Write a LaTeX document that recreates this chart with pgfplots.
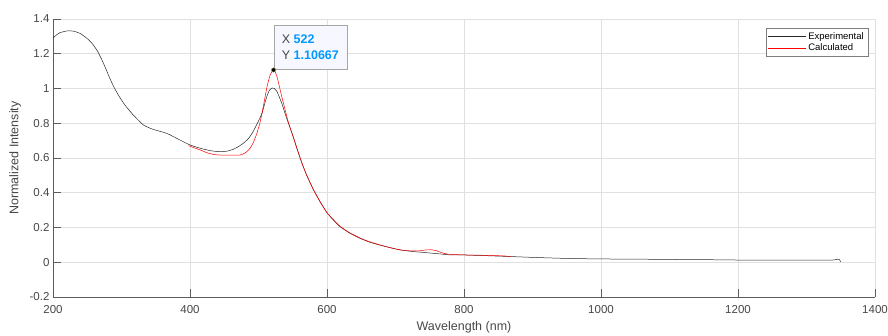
\documentclass[border=0pt]{standalone}
\usepackage{fontspec}
\setmainfont{Liberation Sans}
\usepackage{pgfplots}
\pgfplotsset{compat=1.18}
\definecolor{axgray}{rgb}{0.15,0.15,0.15}
\definecolor{gridgray}{rgb}{0.88,0.88,0.88}
\definecolor{tipblue}{rgb}{0,0.6,1}
\definecolor{tipfill}{rgb}{0.97,0.97,1}
\begin{document}
\begin{tikzpicture}
\useasboundingbox (-53pt,-39pt) rectangle (835pt,297pt);
\begin{axis}[
  at={(0pt,0pt)}, anchor=south west,
  scale only axis, width=822pt, height=278pt,
  xmin=200, xmax=1400, ymin=-0.2, ymax=1.4,
  xtick={200,400,600,800,1000,1200,1400},
  ytick={-0.2,0,0.2,0.4,0.6,0.8,1,1.2,1.4},
  axis lines*=left,
  axis line style={axgray!75, line width=0.6pt},
  tick style={axgray!75, line width=0.6pt},
  tick align=inside, major tick length=8pt,
  grid=major, grid style={gridgray, line width=0.5pt},
  /pgf/number format/assume math mode=true,
  /pgf/number format/1000 sep={},
  ticklabel style={font=\fontsize{11.5}{13}\selectfont, text=axgray!85},
  xticklabel style={yshift=-5pt},
  xlabel={Wavelength (nm)}, ylabel={Normalized Intensity},
  label style={font=\fontsize{12.5}{14}\selectfont, text=axgray!85},
  xlabel style={at={(axis description cs:0.5,-0.088)}, anchor=north, inner sep=0pt},
  ylabel style={at={(axis description cs:-0.046,0.5)}, anchor=center, inner sep=0pt},
  legend style={at={(0.9915,0.9676)}, anchor=north east, draw=axgray!60, line width=0.5pt,
    font=\fontsize{9.5}{11}\selectfont, fill=white, inner sep=2pt, row sep=-1pt,
    cells={anchor=west}},
  legend image code/.code={\draw[#1] (0pt,0pt) -- (38pt,0pt);},
]
\addplot[black!85, line width=0.5pt, smooth, tension=0.3] coordinates {
(200,1.289) (205,1.308) (210,1.321) (220,1.331) (230,1.330) (240,1.316)
(250,1.287) (258,1.255) (265,1.215) (271,1.168) (277,1.115) (283,1.058)
(290,1.000) (297,0.952) (305,0.905) (317,0.848) (332,0.790) (346,0.765)
(366,0.742) (385,0.704)
(400,0.675) (415,0.656) (430,0.642) (444,0.636) (455,0.640) (463,0.650)
(470,0.664) (478,0.685) (486,0.715) (492,0.751) (499,0.805) (505,0.857)
(512,0.953) (516,0.990) (520,1.003) (523,1.000) (527,0.982) (534,0.915)
(541,0.829) (549,0.742) (556,0.655) (563,0.575) (570,0.505) (580,0.420)
(590,0.348) (600,0.285) (610,0.240) (619,0.205) (633,0.168) (648,0.138)
(662,0.116) (677,0.099) (692,0.084) (707,0.071) (725,0.062) (745,0.055)
(765,0.048) (780,0.042) (800,0.042) (830,0.038) (860,0.034) (900,0.028)
(950,0.022) (1000,0.019) (1050,0.018) (1100,0.016) (1150,0.015) (1193,0.013)
(1250,0.012) (1300,0.012) (1340,0.013) (1345,0.018) (1348,0.015) (1350,0.002)
};
\addlegendentry{Experimental}
\addplot[red, line width=0.5pt, smooth, tension=0.3] coordinates {
(398,0.671) (405,0.660) (415,0.646) (425,0.630) (435,0.620) (444,0.617)
(460,0.616) (473,0.617) (478,0.624) (483,0.636) (488,0.658) (492,0.685)
(497,0.735) (502,0.800) (506,0.875) (510,0.960) (513,1.020) (517,1.078)
(521,1.105) (522,1.10667) (524,1.098) (527,1.068) (530,1.020) (534,0.953)
(539,0.875) (544,0.800) (553,0.694) (563,0.575) (570,0.503) (580,0.418)
(590,0.347) (600,0.285) (610,0.242) (619,0.207) (633,0.170) (648,0.140)
(662,0.118) (677,0.100) (692,0.084) (707,0.071) (720,0.066) (735,0.066)
(745,0.071) (752,0.072) (760,0.066) (770,0.052) (780,0.045) (800,0.042)
(830,0.040) (860,0.036) (868,0.032)
};
\addlegendentry{Calculated}
\addplot[only marks, mark=*, mark size=2.2pt, mark options={fill=black, draw=yellow!60!black, line width=0.4pt}, forget plot] coordinates {(522,1.10667)};
\node[anchor=south west, draw=gray!70, fill=tipfill, line width=0.6pt,
  minimum width=73pt, minimum height=44pt, inner xsep=8pt, inner ysep=4pt,
  align=left, font=\fontsize{12.5}{16}\selectfont, text=axgray!85]
  at (axis cs:522,1.10667) {X \textcolor{tipblue}{\textbf{522}}\\Y \textcolor{tipblue}{\textbf{1.10667}}};
\end{axis}
\end{tikzpicture}
\end{document}
